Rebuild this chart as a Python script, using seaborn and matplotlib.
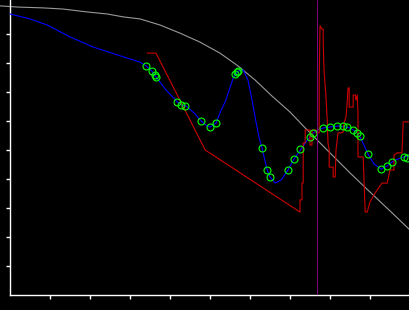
import matplotlib
matplotlib.use("Agg")
import matplotlib.pyplot as plt
import seaborn as sns

# ---- data ----
gray_x = [-0.25, 0.18, 0.83, 1.33, 1.93, 2.43, 2.83, 3.25, 3.75, 4.25, 4.75, 5.25,
          5.70, 6.13, 6.55, 7.00, 7.38, 8.05, 8.50, 9.00, 9.50, 10.00]
gray_y = [9.97, 9.93, 9.90, 9.86, 9.76, 9.69, 9.59, 9.52, 9.31, 9.03, 8.72, 8.34,
          7.90, 7.41, 6.86, 6.31, 5.76, 4.83, 4.21, 3.55, 2.90, 2.24]

blue_x = [0.00, 0.50, 0.93, 1.50, 2.08, 2.68, 3.25, 3.40, 3.55, 3.65, 3.90, 4.18,
          4.28, 4.40, 4.60, 4.78, 4.90, 5.00, 5.15, 5.28, 5.38, 5.48, 5.58, 5.70,
          5.83, 5.95, 6.05, 6.15, 6.23, 6.30, 6.43, 6.50, 6.63, 6.78, 6.95, 7.10,
          7.28, 7.40, 7.50, 7.58, 7.70, 7.83, 8.00, 8.20, 8.38, 8.50, 8.58, 8.68,
          8.75, 8.85, 8.95, 9.10, 9.28, 9.43, 9.55, 9.70, 9.85, 10.00]
blue_y = [9.69, 9.52, 9.31, 8.90, 8.55, 8.28, 8.03, 7.90, 7.72, 7.52, 7.07, 6.66,
          6.55, 6.52, 6.28, 6.00, 5.86, 5.79, 5.93, 6.38, 6.66, 7.07, 7.48, 7.72,
          7.76, 7.41, 6.72, 5.97, 5.41, 5.07, 4.31, 4.07, 3.86, 3.97, 4.31, 4.69,
          5.03, 5.28, 5.45, 5.59, 5.69, 5.76, 5.79, 5.83, 5.79, 5.76, 5.69, 5.59,
          5.45, 5.17, 4.86, 4.52, 4.34, 4.45, 4.59, 4.69, 4.76, 4.79]

marker_x = [3.40, 3.55, 3.63, 3.65, 4.18, 4.28, 4.38, 4.78, 5.00, 5.15, 5.63, 5.68,
            5.70, 6.30, 6.43, 6.50, 6.95, 7.10, 7.25, 7.50, 7.58, 7.83, 8.00, 8.18,
            8.33, 8.43, 8.58, 8.68, 8.75, 8.95, 9.28, 9.43, 9.55, 9.85, 9.93]
marker_y = [7.90, 7.72, 7.59, 7.52, 6.66, 6.55, 6.52, 6.00, 5.79, 5.93, 7.62, 7.69,
            7.72, 5.07, 4.31, 4.07, 4.31, 4.69, 5.03, 5.45, 5.59, 5.76, 5.79, 5.83,
            5.83, 5.79, 5.69, 5.59, 5.48, 4.86, 4.34, 4.45, 4.59, 4.76, 4.72]

red_x = [3.43, 3.65, 4.88, 7.25, 7.25, 7.30, 7.30, 7.33, 7.33, 7.38, 7.38, 7.50,
         7.50, 7.55, 7.55, 7.65, 7.65, 7.73, 7.73, 7.75, 7.80, 7.83, 7.83, 7.85,
         7.90, 7.93, 7.95, 7.98, 7.98, 8.08, 8.08, 8.13, 8.15, 8.20, 8.28, 8.33,
         8.35, 8.40, 8.43, 8.45, 8.48, 8.48, 8.58, 8.58, 8.63, 8.65, 8.68, 8.70,
         8.70, 8.83, 8.88, 8.93, 9.00, 9.13, 9.30, 9.43, 9.50, 9.60, 9.60, 9.68,
         9.80, 9.83, 10.00]
red_y = [8.34, 8.34, 5.00, 2.86, 3.28, 3.28, 3.86, 3.86, 5.24, 5.24, 5.69, 5.69,
         5.17, 5.17, 5.69, 5.69, 5.59, 5.59, 7.41, 9.28, 9.17, 9.17, 8.69, 7.76,
         6.83, 6.03, 5.24, 5.00, 4.41, 4.41, 4.07, 4.07, 5.00, 5.59, 5.59, 5.62,
         5.93, 6.14, 6.62, 7.14, 7.14, 6.48, 6.48, 6.90, 6.90, 6.72, 6.90, 6.28,
         4.76, 4.76, 2.86, 2.86, 3.21, 3.52, 3.86, 3.86, 4.31, 4.31, 4.83, 4.90,
         4.90, 5.97, 5.97]

vline_x = 7.675
x_ticks = [1, 2, 3, 4, 5, 6, 7, 8, 9]
y_ticks = [1, 2, 3, 4, 5, 6, 7, 8, 9]

# ---- figure ----
sns.set_style("dark", {"axes.facecolor": "black", "figure.facecolor": "black"})
fig = plt.figure(figsize=(4.1, 3.1), dpi=100, facecolor="black")
ax = fig.add_axes([0, 15 / 310, 1, 295 / 310])
ax.set_facecolor("black")

lw = 0.8
sns.lineplot(x=gray_x, y=gray_y, sort=False, estimator=None, color="#999999",
             lw=lw, ax=ax, zorder=2)
sns.lineplot(x=blue_x, y=blue_y, sort=False, estimator=None, color="#0000ff",
             lw=lw, ax=ax, zorder=3)
sns.lineplot(x=red_x, y=red_y, sort=False, estimator=None, color="#cc0000",
             lw=lw, ax=ax, zorder=4)
sns.lineplot(x=marker_x, y=marker_y, sort=False, estimator=None, linestyle="",
             marker="o", ms=5, mfc="none", mec="#00ff00", mew=0.8, ax=ax, zorder=5)
ax.axvline(vline_x, color="#800080", lw=0.72, zorder=6)

ax.set_xlim(-0.25, 10)
ax.set_ylim(0, 295 / 29)
ax.set_xticks(x_ticks)
ax.set_yticks(y_ticks)
ax.set_xticklabels([])
ax.set_yticklabels([])
ax.grid(False)

for s in ["top", "right"]:
    ax.spines[s].set_visible(False)
ax.spines["left"].set_position(("data", 0))
ax.spines["bottom"].set_bounds(0, 10)
for s in ["left", "bottom"]:
    ax.spines[s].set_visible(True)
    ax.spines[s].set_color("white")
    ax.spines[s].set_linewidth(1.0)
ax.tick_params(axis="both", direction="out", length=3, width=1.0, colors="white",
               bottom=True, left=True)

fig.savefig("out.png", dpi=100, facecolor="black")
